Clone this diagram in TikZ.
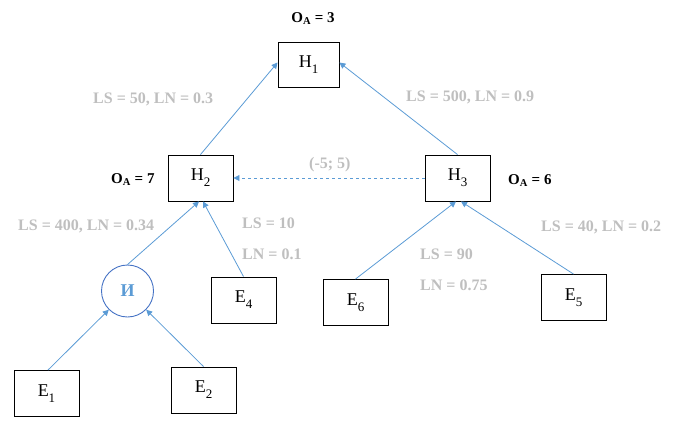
\documentclass[tikz,border=0pt]{standalone}
\usepackage{fontspec}
\setmainfont{Liberation Serif}
\usetikzlibrary{arrows.meta}
\definecolor{lbl}{RGB}{191,191,191}
\definecolor{conn}{RGB}{91,155,213}
\definecolor{circ}{RGB}{68,114,196}
\newcommand{\lowsub}[1]{\raisebox{-6pt}{\fontsize{13}{13}\selectfont #1}}
\begin{document}
\begin{tikzpicture}[x=1pt,y=-1pt,
 box/.style={draw=black,line width=0.9pt,minimum width=65pt,minimum height=46pt,inner sep=0pt,font=\fontsize{18}{20}\selectfont},
 lab/.style={text=lbl,font=\bfseries\fontsize{16}{18}\selectfont,inner sep=0pt,anchor=base west},
 oa/.style={font=\bfseries\fontsize{15}{17}\selectfont,inner sep=0pt,anchor=base west},
 link/.style={draw=conn,line width=0.8pt,-{Triangle[length=6pt,width=6pt]}},
]
\useasboundingbox (0,0) rectangle (679,425);
% boxes
\node[box,minimum width=61pt,minimum height=45pt] (H1) at (308.5,64.5) {H\lowsub{1}};
\node[box] (H2) at (200.5,178) {H\lowsub{2}};
\node[box] (H3) at (457.5,178) {H\lowsub{3}};
\node[box] (E4) at (243.5,300) {E\lowsub{4}};
\node[box] (E6) at (355.5,302.5) {E\lowsub{6}};
\node[box] (E5) at (573.5,297.5) {E\lowsub{5}};
\node[box] (E1) at (46.5,393.5) {E\lowsub{1}};
\node[box] (E2) at (203.5,390) {E\lowsub{2}};
\node[circle,draw=circ,line width=0.9pt,minimum size=52pt,inner sep=0pt,text=conn,font=\bfseries\fontsize{18}{20}\selectfont] (I) at (127.5,291) {И};
% labels
\node[oa,anchor=base] (oa1) at (313,22.5) {O\textsubscript{A} = 3};
\node[oa] (oa2) at (111,183.3) {O\textsubscript{A} = 7};
\node[oa] (oa3) at (508,184.3) {O\textsubscript{A} = 6};
\node[lab] (l1) at (93,103.5) {LS = 50, LN = 0.3};
\node[lab] (l2) at (406,102) {LS = 500, LN = 0.9};
\node[lab] (l3) at (309,168) {(-5; 5)};
\node[lab] (l4) at (18,230.7) {LS = 400, LN = 0.34};
\node[lab] (l5) at (242,228.3) {LS = 10};
\node[lab] (l6) at (242,259) {LN = 0.1};
\node[lab] (l7) at (541,231) {LS = 40, LN = 0.2};
\node[lab] (l8) at (420,259) {LS = 90};
\node[lab] (l9) at (420,290) {LN = 0.75};
% connectors
\draw[link] (H2.north) -- ([yshift=2pt]H1.west);
\draw[link] (H3.north) -- ([yshift=2pt]H1.east);
\draw[link,dashed] (H3.west) -- (H2.east);
\draw[link] (I.north) -- ([xshift=-1.5pt]H2.south);
\draw[link] (E4.north) -- ([xshift=2.5pt]H2.south);
\draw[link] (E6.north) -- ([xshift=-1.5pt]H3.south);
\draw[link] (E5.north) -- ([xshift=3.5pt]H3.south);
\draw[link] ([xshift=1.5pt]E1.north) -- (I.south west);
\draw[link] (E2.north) -- (I.south east);
\end{tikzpicture}
\end{document}
